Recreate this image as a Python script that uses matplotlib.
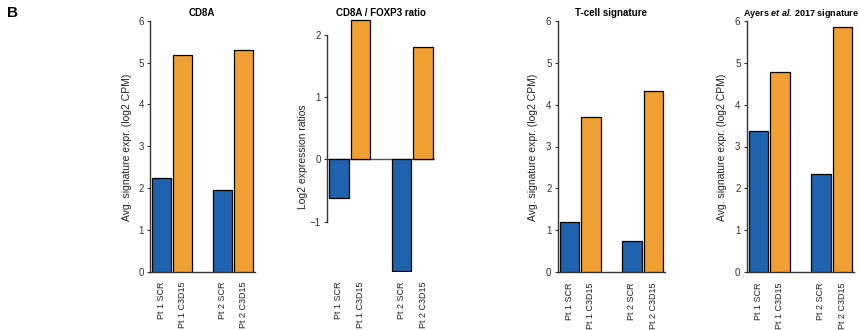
import numpy as np
import matplotlib.pyplot as plt

plt.rcParams['font.family'] = ['Liberation Sans', 'DejaVu Sans']
plt.rcParams['mathtext.fontset'] = 'custom'
plt.rcParams['mathtext.it'] = 'Liberation Sans:italic:bold'
plt.rcParams['mathtext.rm'] = 'Liberation Sans:bold'

# Samples and values per panel
samples = ['Pt 1 SCR', 'Pt 1 C3D15', 'Pt 2 SCR', 'Pt 2 C3D15']
cd8a = [2.25, 5.18, 1.95, 5.31]
cd8a_foxp3 = [-0.63, 2.24, -1.80, 1.80]
tcell = [1.19, 3.70, 0.75, 4.33]
ayers = [3.36, 4.78, 2.35, 5.85]

titles = ['CD8A', 'CD8A / FOXP3 ratio', 'T-cell signature',
          r'$\mathrm{Ayers}\ \mathit{et\ al.}\,\mathrm{2017\ signature}$']
ylabels = ['Avg. signature expr. (log2 CPM)', 'Log2 expression ratios',
           'Avg. signature expr. (log2 CPM)', 'Avg. signature expr. (log2 CPM)']
series = [cd8a, cd8a_foxp3, tcell, ayers]

blue = '#1f62ad'
orange = '#f0a032'
colors = [blue, orange, blue, orange]
xpos = np.array([0, 1.1, 3.2, 4.3])

W, H = 859, 330
fig = plt.figure(figsize=(W / 100, H / 100), dpi=100)

# axes boxes in pixels: left, right, top, bottom
boxes = [(150, 255, 20.7, 272), (327, 435, 19, 272),
         (557.7, 665, 20.7, 272.3), (746.7, 854, 20.7, 272.3)]
ylims = [(0, 6), (-1.81, 2.25), (0, 6), (0, 6)]
ylab_x = [127, 303, 533, 722]
ylab_y = [147, 157, 147, 147]
title_x = [202, 381, 611, 801]

for i, (l, r, t, b) in enumerate(boxes):
    ax = fig.add_axes([l / W, 1 - b / H, (r - l) / W, (b - t) / H])
    ax.bar(xpos, series[i], width=1.0, color=colors, edgecolor='black',
           linewidth=0.9, zorder=3)
    ax.set_xlim(-0.6, 4.9)
    ax.set_ylim(*ylims[i])
    for s in ['top', 'right']:
        ax.spines[s].set_visible(False)
    ax.spines['left'].set_color('#333333')
    ax.spines['left'].set_linewidth(1.0)
    if i == 1:
        ax.spines['bottom'].set_visible(False)
        ax.spines['left'].set_bounds(-1, 2)
        ax.axhline(0, color='#555555', linewidth=1.0, zorder=2)
        ax.set_yticks([-1, 0, 1, 2])
    else:
        ax.spines['bottom'].set_color('#333333')
        ax.spines['bottom'].set_linewidth(1.0)
        ax.set_yticks(range(0, 7))
    ax.tick_params(axis='y', length=2.5, width=0.8, pad=2, labelsize=7,
                   colors='#333333')
    ax.set_xticks(xpos)
    ax.set_xticklabels(samples, rotation=90, fontsize=6.5, va='top',
                       color='#222222')
    ax.tick_params(axis='x', length=0, pad=7)
    # panel title
    fig.text(title_x[i] / W, 1 - 13 / H, titles[i],
             fontsize=6.5 if i == 3 else 7,
             fontweight='bold', ha='center', va='center')
    fig.text(ylab_x[i] / W, 1 - ylab_y[i] / H, ylabels[i], rotation=90,
             fontsize=7.5, ha='center', va='center', color='#222222')

fig.text(7 / W, 1 - 13 / H, 'B', fontsize=11, fontweight='bold',
         ha='left', va='center')

fig.savefig('out.png', dpi=100)
